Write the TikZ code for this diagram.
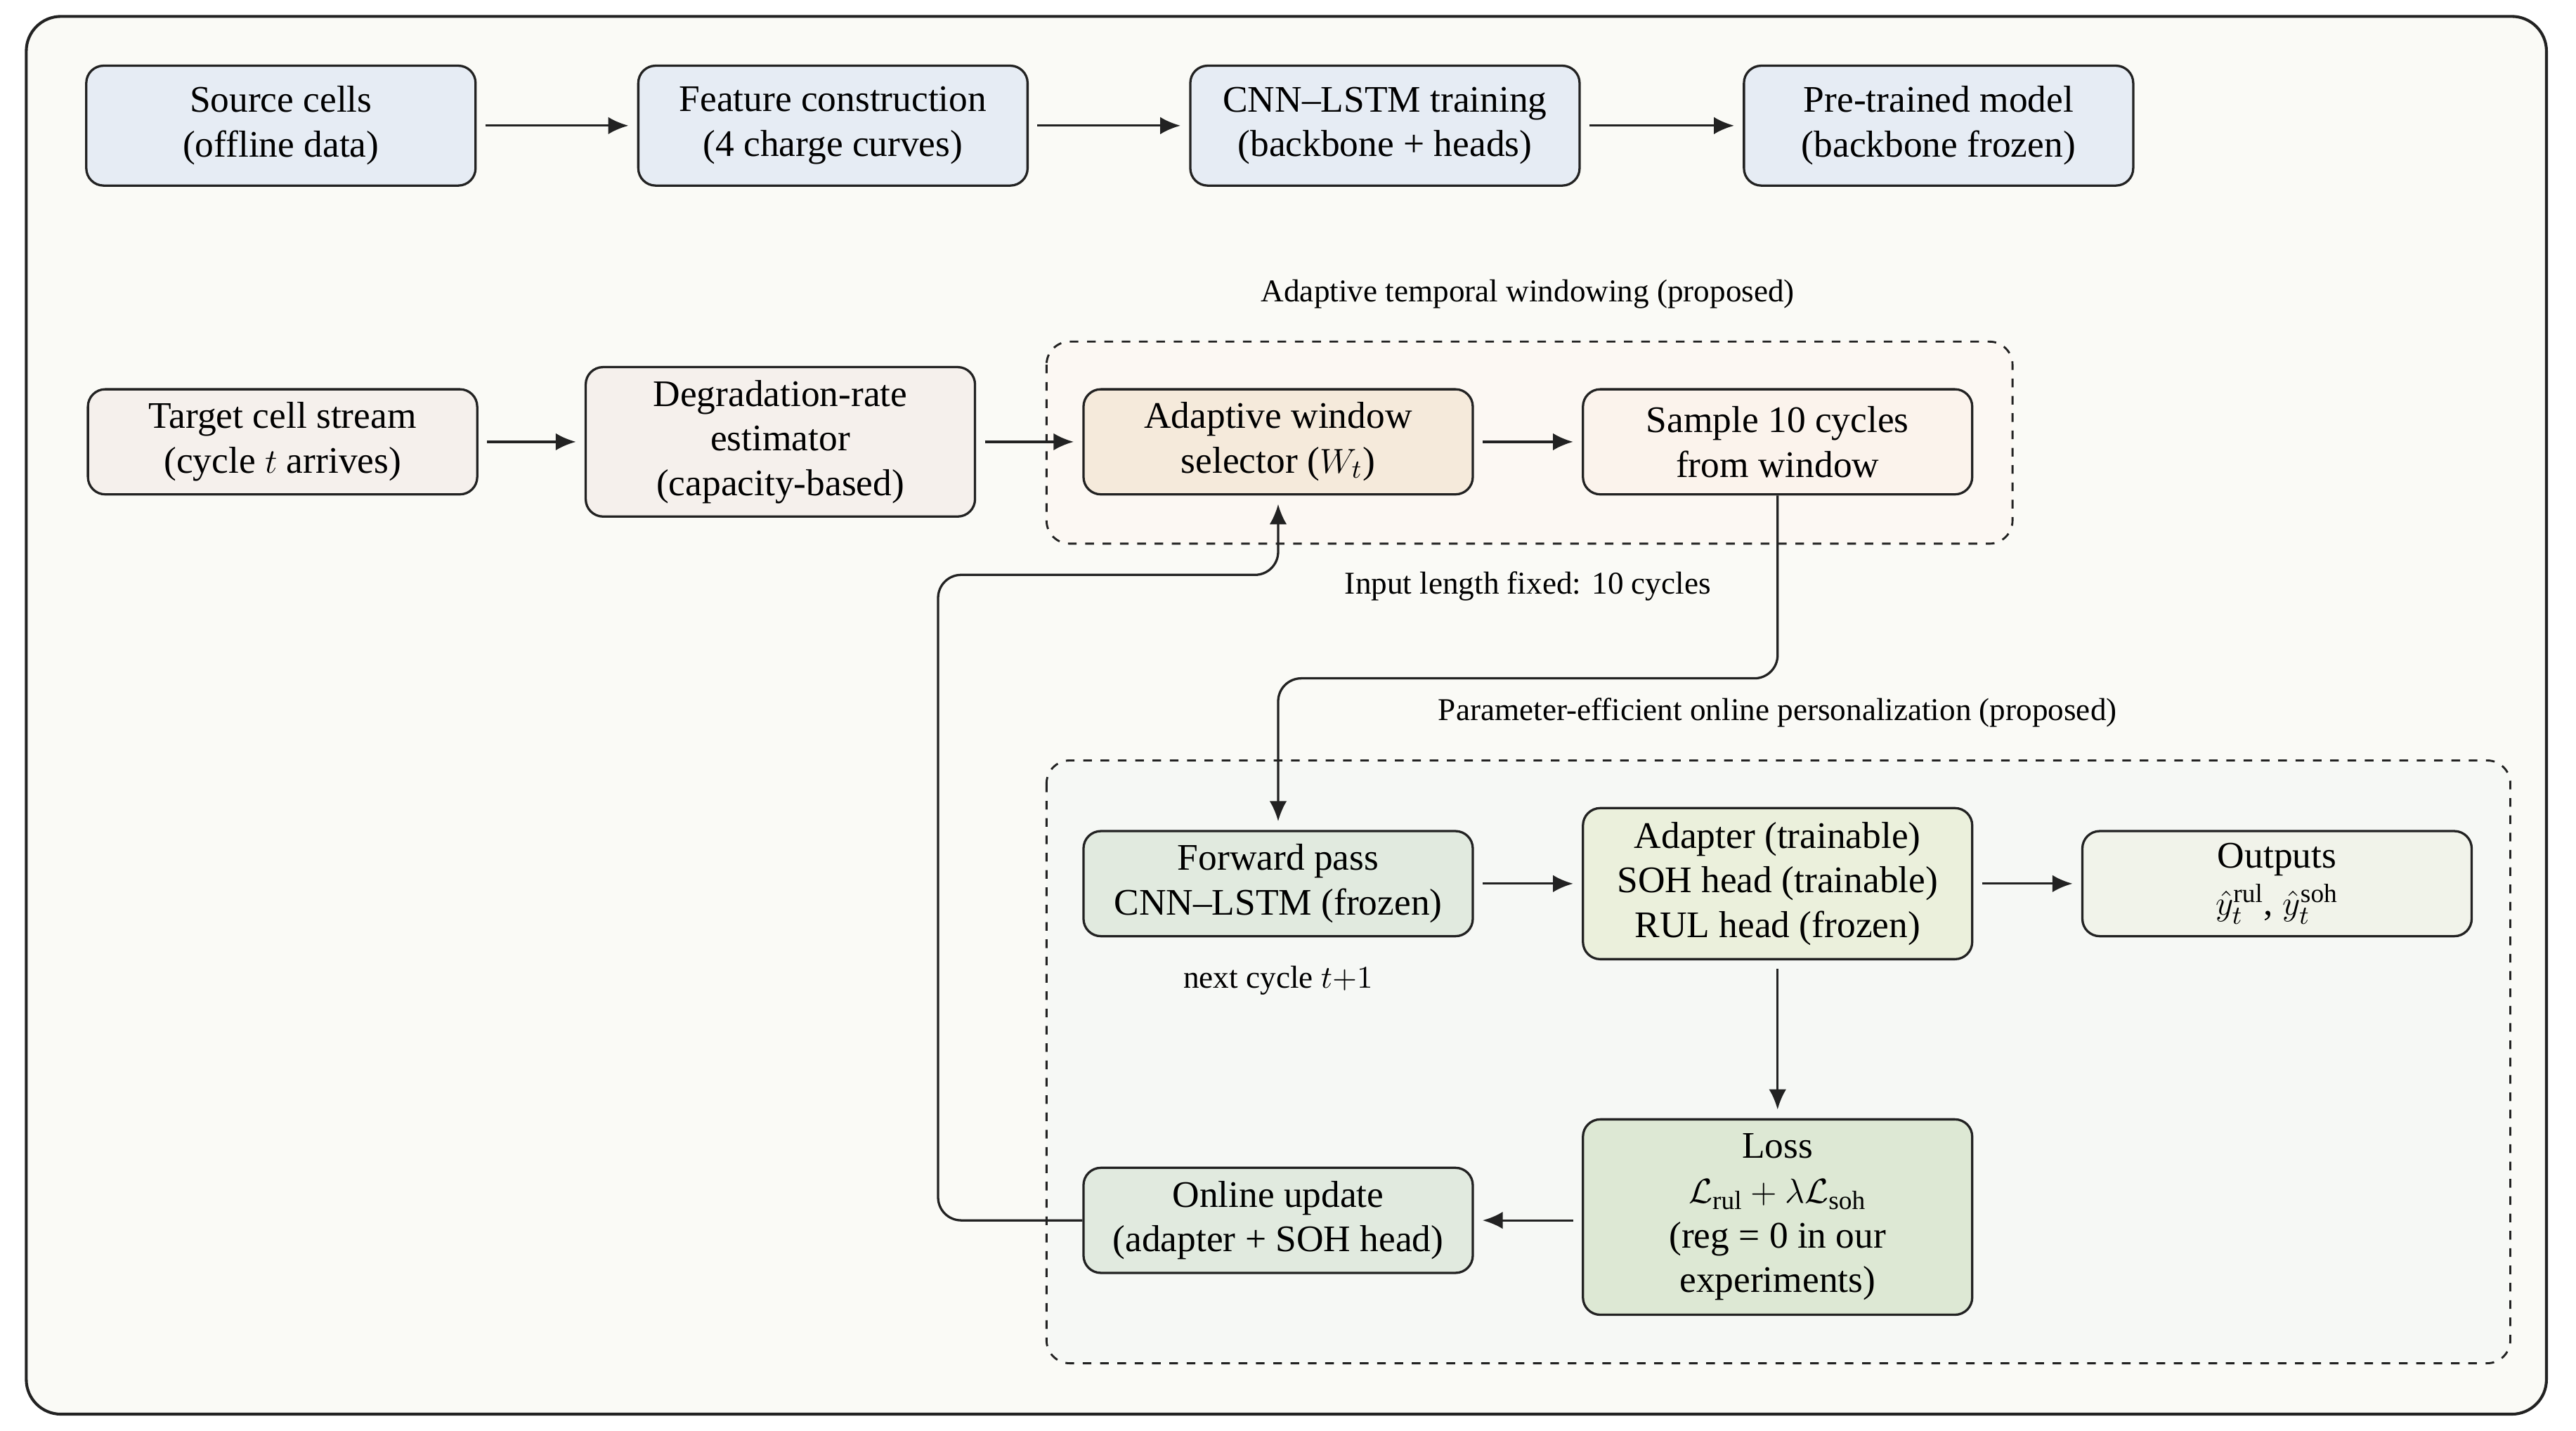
\documentclass[tikz,border=0pt]{standalone}
\usepackage{fontspec}
\setmainfont{Liberation Serif}
\usepackage{amsmath}
\usepackage{xcolor}
\usetikzlibrary{positioning, arrows.meta, calc, backgrounds}

\definecolor{offblue}{HTML}{E6ECF4}
\definecolor{offbeige}{HTML}{F5F0EC}
\definecolor{selbeige}{HTML}{F5EADB}
\definecolor{smpbeige}{HTML}{FBF3EC}
\definecolor{winfill}{HTML}{FCF8F3}
\definecolor{fwdgreen}{HTML}{E1EADF}
\definecolor{adpgreen}{HTML}{EBF0DC}
\definecolor{outgreen}{HTML}{F1F3EA}
\definecolor{lossgreen}{HTML}{DDE8D4}
\definecolor{perfill}{HTML}{F6F8F5}
\definecolor{pagefill}{HTML}{FAFAF6}
\definecolor{linegray}{HTML}{222222}

\begin{document}
\begin{tikzpicture}[
    x=0.02cm, y=-0.02cm,
    stagebox/.style={
        rectangle,
        draw=linegray,
        line width=0.8pt,
        rounded corners=6pt,
        minimum width=4.74cm,
        minimum height=1.28cm,
        align=center,
        inner sep=2pt,
        font=\fontsize{13}{15.5}\selectfont
    },
    groupbox/.style={
        draw=linegray,
        line width=0.7pt,
        dashed,
        rounded corners=8pt
    },
    note/.style={
        font=\fontsize{11}{13}\selectfont,
        align=center
    },
    flow/.style={-{Latex[length=7pt,width=6pt]}, line width=0.8pt, draw=linegray,
        shorten >=3pt, shorten <=3pt}
]
    \useasboundingbox (0,0) rectangle (1568,871);
    % outer frame
    \draw[fill=pagefill, draw=linegray, line width=1pt, rounded corners=12pt] (16,10) rectangle (1550,861);

    % group regions
    \draw[groupbox, fill=winfill] (637,208) rectangle (1225,331);
    \draw[groupbox, fill=perfill] (637,463) rectangle (1528,830);
    \node[note] (wintitle) at (930,179) {Adaptive temporal windowing (proposed)};
    \node[note] (pertitle) at (1082,434) {Parameter-efficient online personalization (proposed)};

    % Row 1: offline pretraining
    \node[stagebox, fill=offblue, minimum height=1.46cm] (src) at (171,76.5) {Source cells\\(offline data)};
    \node[stagebox, fill=offblue, minimum height=1.46cm] (feat) at (507,76.5) {Feature construction\\(4 charge curves)};
    \node[stagebox, fill=offblue, minimum height=1.46cm] (train) at (843,76.5) {CNN--LSTM training\\(backbone + heads)};
    \node[stagebox, fill=offblue, minimum height=1.46cm] (pre) at (1180,76.5) {Pre-trained model\\(backbone frozen)};

    % Row 2: target stream + windowing
    \node[stagebox, fill=offbeige] (tgt) at (172,269) {Target cell stream\\(cycle $t$ arrives)};
    \node[stagebox, fill=offbeige, minimum height=1.82cm] (deg) at (475,269) {Degradation-rate\\estimator\\(capacity-based)};
    \node[stagebox, fill=selbeige] (sel) at (778,269) {Adaptive window\\selector ($W_t$)};
    \node[stagebox, fill=smpbeige] (smp) at (1082,269) {Sample 10 cycles\\from window};
    \node[note] (fixed) at (930,357) {Input length fixed: 10 cycles};

    % Row 3: personalization
    \node[stagebox, fill=fwdgreen] (fwd) at (778,538) {Forward pass\\CNN--LSTM (frozen)};
    \node[stagebox, fill=adpgreen, minimum height=1.84cm] (adp) at (1082,538) {Adapter (trainable)\\SOH head (trainable)\\RUL head (frozen)};
    \node[stagebox, fill=outgreen] (out) at (1386,538) {Outputs\\[1pt]$\hat{y}_t^{\mathrm{rul}}$,\ $\hat{y}_t^{\mathrm{soh}}$};
    \node[note] (next) at (778,597) {next cycle $t{+}1$};

    % Row 4: loss + update
    \node[stagebox, fill=lossgreen, minimum height=2.38cm] (loss) at (1082,741) {Loss\\$\mathcal{L}_{\mathrm{rul}} + \lambda\mathcal{L}_{\mathrm{soh}}$\\(reg = 0 in our\\experiments)};
    \node[stagebox, fill=fwdgreen] (upd) at (778,743) {Online update\\(adapter + SOH head)};

    % Arrows
    \draw[flow] (src) -- (feat);
    \draw[flow] (feat) -- (train);
    \draw[flow] (train) -- (pre);
    \draw[flow] (tgt) -- (deg);
    \draw[flow] (deg) -- (sel);
    \draw[flow] (sel) -- (smp);
    \draw[flow, shorten <=0pt, rounded corners=8pt] (smp.south) -- (1082,413) -- (778,413) -- (fwd.north);
    \draw[flow] (fwd) -- (adp);
    \draw[flow] (adp) -- (out);
    \draw[flow] (adp) -- (loss);
    \draw[flow] (loss.west |- upd) -- (upd);
    \draw[flow, shorten <=0pt, rounded corners=8pt] (upd.west) -- (571,743) -- (571,350) -- (778,350) -- (sel.south);
\end{tikzpicture}
\end{document}
